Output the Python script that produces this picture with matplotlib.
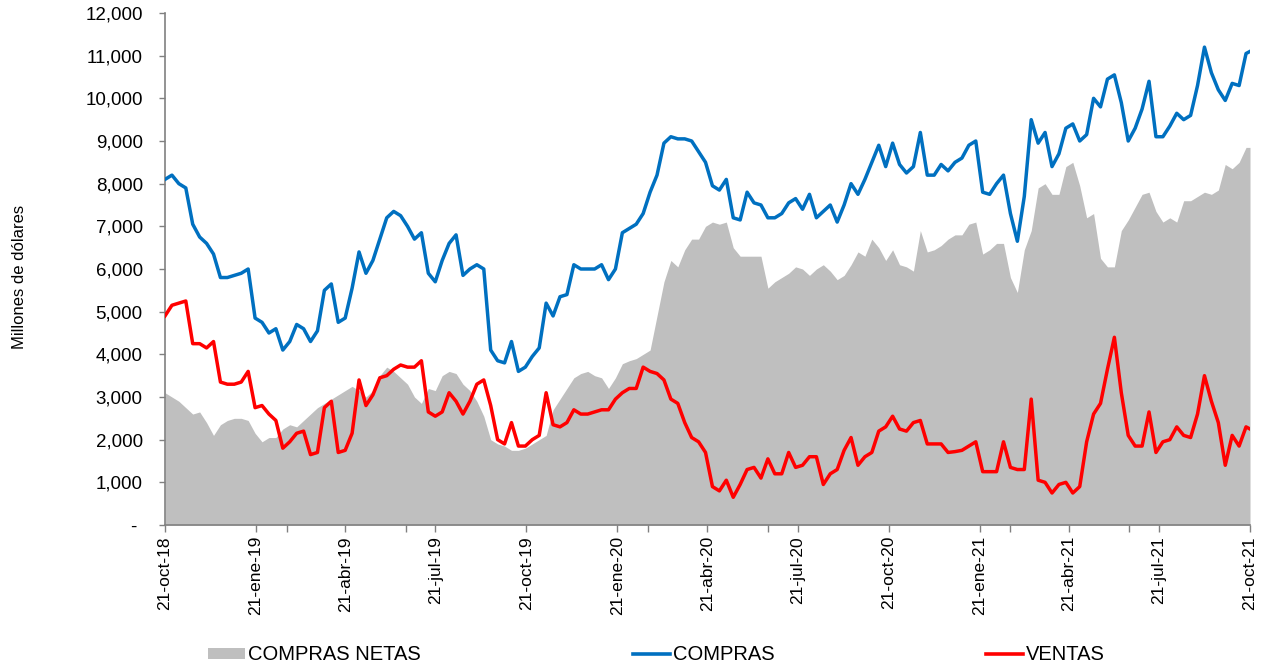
import matplotlib
matplotlib.use("Agg")
import matplotlib.pyplot as plt
from matplotlib.ticker import FuncFormatter, MultipleLocator
from matplotlib.lines import Line2D
from matplotlib.patches import Patch
import pandas as pd

plt.rcParams['font.family'] = ['Liberation Sans', 'DejaVu Sans']

# Weekly observations, 21-oct-2018 .. 21-oct-2021 (millones de dólares)
fechas = list(pd.date_range('2018-10-21', periods=157, freq='7D')) + [pd.Timestamp('2021-10-21')]

compras = [8100, 8200, 8000, 7900, 7050, 6750, 6600, 6350, 5800, 5800,
           5850, 5900, 6000, 4850, 4750, 4500, 4600, 4100, 4300, 4700,
           4600, 4300, 4550, 5500, 5650, 4750, 4850, 5550, 6400, 5900,
           6200, 6700, 7200, 7350, 7250, 7000, 6700, 6850, 5900, 5700,
           6200, 6600, 6800, 5850, 6000, 6100, 6000, 4100, 3850, 3800,
           4300, 3600, 3700, 3950, 4150, 5200, 4900, 5350, 5400, 6100,
           6000, 6000, 6000, 6100, 5750, 6000, 6850, 6950, 7050, 7300,
           7800, 8200, 8950, 9100, 9050, 9050, 9000, 8750, 8500, 7950,
           7850, 8100, 7200, 7150, 7800, 7550, 7500, 7200, 7200, 7300,
           7550, 7650, 7400, 7750, 7200, 7350, 7500, 7100, 7500, 8000,
           7750, 8100, 8500, 8900, 8400, 8950, 8450, 8250, 8400, 9200,
           8200, 8200, 8450, 8300, 8500, 8600, 8900, 9000, 7800, 7750,
           8000, 8200, 7300, 6650, 7700, 9500, 8950, 9200, 8400, 8700,
           9300, 9400, 9000, 9150, 10000, 9800, 10450, 10550, 9900, 9000,
           9300, 9750, 10400, 9100, 9100, 9350, 9650, 9500, 9600, 10300,
           11200, 10600, 10200, 9950, 10350, 10300, 11050, 11100]

ventas = [4900, 5150, 5200, 5250, 4250, 4250, 4150, 4300, 3350, 3300,
          3300, 3350, 3600, 2750, 2800, 2600, 2450, 1800, 1950, 2150,
          2200, 1650, 1700, 2750, 2900, 1700, 1750, 2150, 3400, 2800,
          3050, 3450, 3500, 3650, 3750, 3700, 3700, 3850, 2650, 2550,
          2650, 3100, 2900, 2600, 2900, 3300, 3400, 2800, 2000, 1900,
          2400, 1850, 1850, 2000, 2100, 3100, 2350, 2300, 2400, 2700,
          2600, 2600, 2650, 2700, 2700, 2950, 3100, 3200, 3200, 3700,
          3600, 3550, 3400, 2950, 2850, 2400, 2050, 1950, 1700, 900,
          800, 1050, 650, 950, 1300, 1350, 1100, 1550, 1200, 1200,
          1700, 1350, 1400, 1600, 1600, 950, 1200, 1300, 1750, 2050,
          1400, 1600, 1700, 2200, 2300, 2550, 2250, 2200, 2400, 2450,
          1900, 1900, 1900, 1700, 1720, 1750, 1850, 1950, 1250, 1250,
          1250, 1950, 1350, 1300, 1300, 2950, 1050, 1000, 750, 950,
          1000, 750, 900, 1950, 2600, 2850, 3650, 4400, 3100, 2100,
          1850, 1850, 2650, 1700, 1950, 2000, 2300, 2100, 2050, 2600,
          3500, 2900, 2400, 1400, 2100, 1850, 2300, 2250]

compras_netas = [3100, 3000, 2900, 2750, 2600, 2650, 2400, 2100, 2350, 2450,
                 2500, 2500, 2450, 2150, 1950, 2050, 2050, 2250, 2350, 2300,
                 2450, 2600, 2750, 2850, 2950, 3050, 3150, 3250, 3150, 3000,
                 3150, 3500, 3700, 3600, 3450, 3300, 3000, 2850, 3200, 3150,
                 3500, 3600, 3550, 3300, 3150, 2900, 2550, 2000, 1900, 1850,
                 1750, 1750, 1800, 1900, 2000, 2100, 2700, 2950, 3200, 3450,
                 3550, 3600, 3500, 3450, 3200, 3450, 3780, 3850, 3900, 4000,
                 4100, 4900, 5700, 6200, 6050, 6450, 6700, 6700, 7000, 7100,
                 7050, 7100, 6500, 6300, 6300, 6300, 6300, 5550, 5700, 5800,
                 5900, 6050, 6000, 5850, 6000, 6100, 5950, 5750, 5850, 6100,
                 6400, 6300, 6700, 6500, 6200, 6450, 6100, 6050, 5950, 6900,
                 6400, 6450, 6550, 6700, 6800, 6800, 7050, 7100, 6350, 6450,
                 6600, 6600, 5800, 5450, 6450, 6900, 7900, 8000, 7750, 7750,
                 8400, 8500, 7950, 7200, 7300, 6250, 6050, 6050, 6900, 7150,
                 7450, 7750, 7800, 7350, 7100, 7200, 7100, 7600, 7600, 7700,
                 7800, 7750, 7850, 8450, 8350, 8500, 8850, 8850]

fechas_etiqueta = ['2018-10-21', '2019-01-21', '2019-04-21', '2019-07-21', '2019-10-21',
                   '2020-01-21', '2020-04-21', '2020-07-21', '2020-10-21', '2021-01-21',
                   '2021-04-21', '2021-07-21', '2021-10-21']
fechas_marca = ['2019-02-21', '2019-06-21', '2020-02-21', '2020-06-21', '2021-02-21', '2021-06-21']
meses = {1: 'ene', 2: 'feb', 3: 'mar', 4: 'abr', 5: 'may', 6: 'jun',
         7: 'jul', 8: 'ago', 9: 'sep', 10: 'oct', 11: 'nov', 12: 'dic'}

AZUL = '#0070C0'
ROJO = '#FF0000'
GRIS = '#BFBFBF'
EJE = '#808080'

W, H = 1268, 668
fig = plt.figure(figsize=(W / 100, H / 100), dpi=100)
ax = fig.add_axes([165 / W, 1 - 525 / H, (1250 - 165) / W, (525 - 13) / H])

ax.fill_between(fechas, 0, compras_netas, color=GRIS, lw=0, zorder=1)
ax.plot(fechas, compras, color=AZUL, lw=2.5, solid_joinstyle='round', zorder=3)
ax.plot(fechas, ventas, color=ROJO, lw=2.5, solid_joinstyle='round', zorder=3)

ax.set_xlim(pd.Timestamp('2018-10-21'), pd.Timestamp('2021-10-21'))
ax.set_ylim(0, 12000)

for s in ('top', 'right'):
    ax.spines[s].set_visible(False)
for s in ('left', 'bottom'):
    ax.spines[s].set_color(EJE)
    ax.spines[s].set_linewidth(1.2)

ax.yaxis.set_major_locator(MultipleLocator(1000))
ax.yaxis.set_major_formatter(FuncFormatter(lambda v, p: '- ' if v == 0 else f'{v:,.0f}'))
ax.tick_params(axis='y', direction='out', length=4, width=1, color=EJE,
               pad=12, labelsize=13.5, labelcolor='black')

etq = [pd.Timestamp(d) for d in fechas_etiqueta]
ax.set_xticks(etq)
ax.set_xticklabels([f'{d.day}-{meses[d.month]}-{d.strftime("%y")}' for d in etq],
                   rotation=90, fontsize=12.5)
ax.set_xticks([pd.Timestamp(d) for d in fechas_marca], minor=True)
ax.tick_params(axis='x', which='both', direction='out', length=5, width=1,
               color=EJE, pad=3, labelcolor='black')

fig.text(20 / W, 1 - 277 / H, 'Millones de dólares', rotation=90,
         ha='center', va='center', fontsize=12)

# Legend entries spread along the bottom
entradas = [
    (Patch(facecolor=GRIS, edgecolor='none'), 'COMPRAS NETAS', 208),
    (Line2D([], [], color=AZUL, lw=2.6), 'COMPRAS', 633),
    (Line2D([], [], color=ROJO, lw=2.6), 'VENTAS', 986),
]
for h, txt, x in entradas:
    fig.legend([h], [txt], loc='center left', bbox_to_anchor=(x / W, 1 - 655 / H),
               frameon=False, fontsize=14.5, handlelength=1.85, handleheight=0.45,
               handletextpad=0.15, borderpad=0, borderaxespad=0)

fig.savefig('out.png', dpi=100)
